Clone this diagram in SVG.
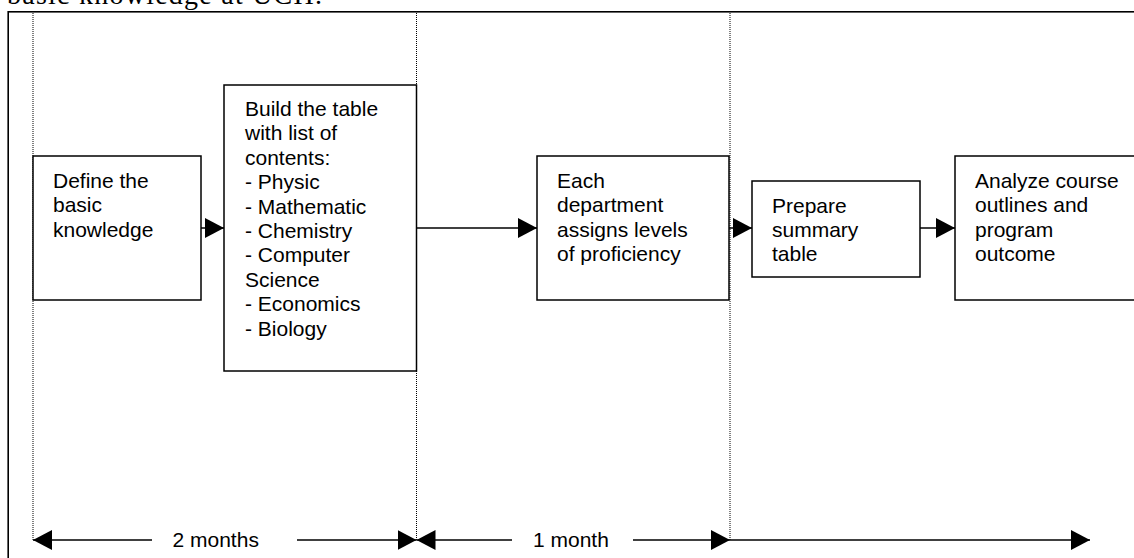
<svg xmlns="http://www.w3.org/2000/svg" width="1134" height="558" viewBox="0 0 1134 558">
<style>
.box{fill:#fff;stroke:#000;stroke-width:1.5}
.t{font-family:"Liberation Sans",Arial,sans-serif;font-size:21px;fill:#000}
.dot{stroke:#000;stroke-width:1;stroke-dasharray:1 1}
.ln{stroke:#000;stroke-width:1.5;fill:none}
</style>
<defs>
<marker id="ah" markerUnits="userSpaceOnUse" markerWidth="19" markerHeight="20" refX="19" refY="10" orient="auto-start-reverse" viewBox="0 0 19 20">
<path d="M0,0 L19,10 L0,20 z" fill="#000"/>
</marker>
</defs>
<rect fill="#fff" width="1134" height="558"/>
<text x="7" y="3.5" font-family="'Liberation Serif','Times New Roman',serif" font-size="28" textLength="315" lengthAdjust="spacing">basic knowledge at UCH.</text>
<rect id="frame" x="8.2" y="11.8" width="1200" height="600" fill="none" stroke="#000" stroke-width="1.6"/>
<g id="guides">
<line class="dot" x1="33" y1="13" x2="33" y2="540"/>
<line class="dot" x1="416.5" y1="13" x2="416.5" y2="540"/>
<line class="dot" x1="730" y1="13" x2="730" y2="540"/>
</g>
<g id="n1"><rect class="box" x="33" y="156" width="168" height="144"/>
<text class="t"><tspan x="53" y="188">Define the</tspan><tspan x="53" y="212.4">basic</tspan><tspan x="53" y="236.8">knowledge</tspan></text></g>
<g id="n2"><rect class="box" x="224" y="85" width="192.5" height="286"/>
<text class="t"><tspan x="245" y="116">Build the table</tspan><tspan x="245" y="140.4">with list of</tspan><tspan x="245" y="164.8">contents:</tspan><tspan x="245" y="189.2">- Physic</tspan><tspan x="245" y="213.6">- Mathematic</tspan><tspan x="245" y="238">- Chemistry</tspan><tspan x="245" y="262.4">- Computer</tspan><tspan x="245" y="286.8">Science</tspan><tspan x="245" y="311.2">- Economics</tspan><tspan x="245" y="335.6">- Biology</tspan></text></g>
<g id="n3"><rect class="box" x="537" y="156" width="192" height="144"/>
<text class="t"><tspan x="557" y="188">Each</tspan><tspan x="557" y="212.4">department</tspan><tspan x="557" y="236.8">assigns levels</tspan><tspan x="557" y="261.2">of proficiency</tspan></text></g>
<g id="n4"><rect class="box" x="752" y="181" width="168" height="96"/>
<text class="t"><tspan x="772" y="212.5">Prepare</tspan><tspan x="772" y="236.9">summary</tspan><tspan x="772" y="261.3">table</tspan></text></g>
<g id="n5"><rect class="box" x="955" y="156" width="250" height="144"/>
<text class="t"><tspan x="975" y="188">Analyze course</tspan><tspan x="975" y="212.4">outlines and</tspan><tspan x="975" y="236.8">program</tspan><tspan x="975" y="261.2">outcome</tspan></text></g>
<g id="connectors">
<line class="ln" x1="201" y1="228" x2="224" y2="228" marker-end="url(#ah)"/>
<line class="ln" x1="416.5" y1="228" x2="537" y2="228" marker-end="url(#ah)"/>
<line class="ln" x1="729" y1="228" x2="752" y2="228" marker-end="url(#ah)"/>
<line class="ln" x1="920" y1="228" x2="955" y2="228" marker-end="url(#ah)"/>
<line class="ln" x1="33" y1="540" x2="152" y2="540" marker-start="url(#ah)"/>
<line class="ln" x1="297" y1="540" x2="416.5" y2="540" marker-end="url(#ah)"/>
<line class="ln" x1="416.5" y1="540" x2="512" y2="540" marker-start="url(#ah)"/>
<line class="ln" x1="633" y1="540" x2="730" y2="540" marker-end="url(#ah)"/>
<line class="ln" x1="730" y1="540" x2="1090" y2="540" marker-end="url(#ah)"/>
</g>
<g id="durations">
<text class="t" x="172.5" y="547">2 months</text>
<text class="t" x="533" y="547">1 month</text>
</g>
</svg>
